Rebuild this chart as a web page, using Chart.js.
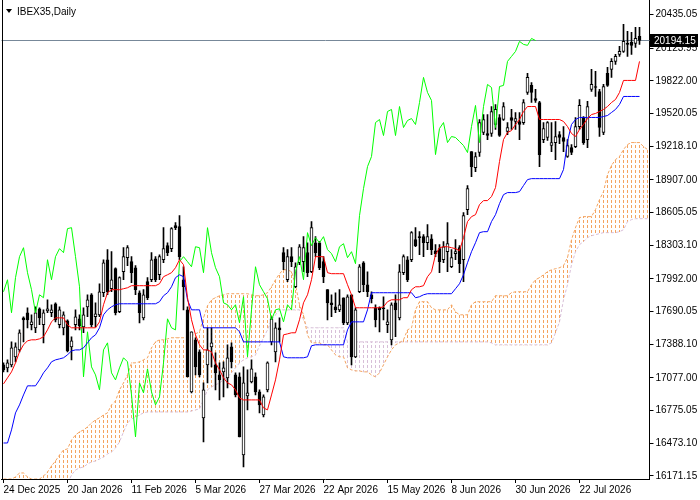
<!DOCTYPE html>
<html>
<head>
<meta charset="utf-8">
<script src="https://cdn.jsdelivr.net/npm/chart.js@4.4.1/dist/chart.umd.min.js"></script>
<style>
  html, body { margin: 0; padding: 0; background: #fff; }
</style>
</head>
<body>
<canvas id="c" width="700" height="500"></canvas>
<script>
// daily candles, one entry per bar
var opens = [17198,17170,17198,17272,17336,17632,17679,17568,17540,17716,
  17568,17697,17679,17762,17568,17540,17605,17364,17568,17623,
  17549,17734,17845,17642,17660,17864,18169,17901,18086,17688,
  18058,18188,18151,18095,17864,17632,17966,17984,18178,18030,
  18169,18299,18271,18484,18474,17984,17706,16948,17429,17318,
  16708,17198,17364,17198,17105,17133,17078,17364,17105,17087,
  16365,16911,17041,17087,16948,16735,16967,17410,17318,17540,
  18234,17984,18197,17919,18141,18151,18234,18058,18326,18326,
  18151,17892,17771,17734,17706,17818,17586,17845,17272,17873,
  18141,17938,17845,17725,17725,17725,17568,17429,17771,17632,
  18049,18169,18169,18354,18382,18382,18326,18363,18252,18271,
  18169,18243,18104,18225,18280,18169,18632,19168,19020,19159,
  19344,19335,19335,19418,19483,19464,19353,19483,19446,19446,
  19436,19714,19779,19658,19621,19279,19298,19224,19251,19325,
  19298,19122,19205,19214,19399,19483,19279,19742,19769,19723,
  19344,19890,19927,20001,20065,20093,20167,20176,20167,20232];

var highs = [17216,17244,17410,17401,17521,17642,17725,17660,17734,17725,
  17706,17799,17753,17771,17734,17688,17614,17457,17706,17660,
  17725,17845,17855,17771,17947,18169,18262,18243,18095,18012,
  18280,18299,18197,18114,17882,17892,18003,18234,18197,18215,
  18465,18326,18465,18511,18576,18104,17734,17503,17448,17336,
  17031,17540,17540,17309,17216,17226,17383,17401,17124,17124,
  17179,17152,17244,17124,16967,16920,17226,17642,17586,17632,
  18280,18262,18280,18141,18308,18382,18326,18521,18382,18336,
  18197,17892,17845,17864,17892,17818,17845,17845,17725,18123,
  18151,18058,17873,17753,17734,17827,17706,17771,17845,18123,
  18215,18197,18428,18465,18428,18400,18493,18400,18308,18308,
  18336,18511,18262,18354,18299,18604,18854,19168,19159,19464,
  19510,19510,19584,19603,19510,19621,19436,19557,19529,19529,
  19649,19890,19806,19742,19631,19436,19446,19436,19446,19353,
  19399,19279,19233,19483,19649,19492,19631,19927,19908,19742,
  19788,19945,20028,20065,20139,20343,20278,20269,20315,20315];

var lows = [17133,17133,17179,17226,17318,17410,17540,17521,17494,17568,
  17401,17679,17642,17595,17540,17475,17318,17244,17521,17521,
  17494,17642,17549,17549,17642,17827,17845,17873,17660,17679,
  17984,18114,17956,17845,17586,17614,17799,17966,17966,17984,
  18141,18206,18243,18447,18169,17706,17087,16939,17105,17087,
  16486,17031,17179,16967,16874,16902,16985,17170,16902,16532,
  16254,16782,17031,16920,16754,16717,16948,17383,17226,17410,
  18076,17966,18104,17910,18123,18058,18012,18049,18197,18076,
  17956,17614,17642,17679,17688,17568,17568,17198,17263,17864,
  17873,17827,17771,17549,17503,17614,17494,17383,17457,17614,
  18030,17966,18151,18289,18215,18197,18262,18215,18197,18049,
  18141,18058,18095,18169,18049,17966,18585,18937,18983,19122,
  19325,19279,19307,19372,19307,19455,19325,19372,19372,19279,
  19418,19695,19621,19621,19029,19251,19270,19168,19094,19242,
  19168,19113,19140,19205,19372,19233,19205,19723,19677,19307,
  19325,19769,19853,19973,20047,20084,20047,20065,20130,20158];

var closes = [17152,17216,17355,17364,17494,17614,17614,17595,17679,17632,
  17679,17716,17706,17614,17706,17660,17327,17420,17642,17559,
  17660,17799,17568,17670,17873,18141,17873,17984,17679,18003,
  18197,18280,18049,17892,17679,17845,17818,18169,17984,18197,
  18271,18234,18456,18465,18197,17919,17087,17503,17179,17105,
  16967,17336,17401,17124,17059,17170,17263,17226,16920,16532,
  17031,16939,17161,16948,16828,16902,17216,17623,17540,17521,
  18151,18197,18151,18104,18289,18280,18049,18465,18234,18095,
  18012,17771,17753,17706,17753,17586,17827,17272,17706,18104,
  17938,17873,17808,17614,17706,17716,17595,17753,17706,18058,
  18197,17984,18419,18299,18373,18326,18382,18262,18225,18151,
  18289,18317,18188,18243,18132,18576,18826,19029,19122,19436,
  19464,19316,19538,19557,19316,19584,19390,19455,19473,19418,
  19621,19853,19714,19640,19140,19381,19436,19251,19307,19298,
  19261,19224,19159,19399,19594,19251,19584,19788,19760,19390,
  19769,19779,20001,20047,20093,20186,20158,20149,20213,20194.15];

// Ichimoku lines
var tenkan = [17022,17078,17133,17216,17318,17383,17420,17429,17429,17438,
  17457,17521,17595,17632,17632,17632,17568,17540,17540,17540,
  17540,17540,17540,17540,17595,17753,17864,17892,17892,17892,
  17901,17910,17929,17929,17929,17929,17929,17929,17929,17947,
  18012,18030,18049,18095,18169,18123,17818,17614,17475,17383,
  17336,17336,17318,17216,17152,17078,17031,17013,16967,16892,
  16874,16874,16874,16874,16874,16800,16782,16920,17059,17244,
  17475,17484,17494,17494,17614,17771,17845,17984,18197,18197,
  18197,18049,18040,18040,18040,18040,17938,17845,17725,17725,
  17725,17725,17725,17725,17725,17734,17781,17799,17799,17799,
  17818,17818,17892,17919,17919,17929,18012,18058,18215,18280,
  18289,18289,18280,18271,18252,18373,18521,18567,18585,18678,
  18715,18715,18752,18835,19076,19279,19344,19362,19418,19464,
  19538,19584,19584,19584,19464,19464,19464,19464,19464,19464,
  19446,19399,19335,19307,19372,19418,19473,19510,19520,19538,
  19557,19584,19621,19649,19714,19825,19825,19825,19825,20001];

var kijun = [16476,16476,16597,16754,16828,16920,17004,17004,17004,17059,
  17124,17170,17226,17244,17253,17263,17290,17327,17336,17336,
  17355,17401,17448,17475,17540,17660,17706,17734,17753,17762,
  17762,17762,17762,17762,17762,17762,17762,17762,17762,17781,
  17836,17864,17919,18003,18030,18012,17799,17706,17706,17706,
  17540,17540,17540,17540,17540,17540,17540,17540,17540,17503,
  17410,17410,17410,17410,17410,17410,17410,17410,17410,17410,
  17272,17263,17263,17263,17263,17263,17272,17374,17383,17383,
  17383,17383,17383,17383,17383,17383,17521,17595,17595,17595,
  17595,17706,17864,17864,17864,17864,17864,17864,17864,17864,
  17864,17864,17864,17818,17827,17845,17855,17855,17855,17855,
  17855,17855,17855,17901,17947,18030,18141,18243,18326,18419,
  18428,18428,18521,18585,18687,18770,18789,18789,18789,18798,
  18854,18909,18918,18918,18918,18918,18918,18918,18918,18918,
  19002,19261,19418,19464,19483,19483,19483,19483,19483,19483,
  19492,19501,19529,19557,19603,19677,19677,19677,19677,19677];

var spanA = [16143,16143,16143,16162,16199,16199,16162,16143,16143,16143,
  16171,16208,16264,16310,16365,16412,16421,16504,16550,16578,
  16597,16624,16661,16689,16708,16735,16754,16828,16865,16967,
  17031,17105,17216,17216,17226,17244,17263,17355,17410,17429,
  17429,17438,17448,17448,17448,17448,17457,17466,17484,17503,
  17632,17743,17799,17818,17836,17845,17855,17855,17855,17855,
  17855,17855,17845,17836,17836,17845,17864,17919,17984,18040,
  18076,18076,18058,17938,17753,17660,17475,17401,17401,17401,
  17383,17383,17336,17290,17272,17272,17170,17152,17142,17142,
  17133,17133,17105,17087,17124,17198,17272,17336,17383,17401,
  17429,17521,17540,17706,17781,17781,17781,17725,17706,17706,
  17706,17706,17753,17688,17660,17660,17660,17753,17781,17781,
  17781,17781,17781,17836,17836,17836,17836,17864,17873,17873,
  17873,17873,17938,17984,18003,18030,18058,18076,18086,18095,
  18114,18188,18354,18465,18558,18567,18567,18567,18632,18724,
  18798,18955,19039,19094,19122,19187,19233,19251,19251,19251,
  19214,19187];

var spanB = [16100,16100,16100,16100,16100,16100,16100,16100,16100,16100,
  16100,16100,16100,16100,16100,16100,16100,16180,16227,16245,
  16254,16282,16301,16310,16328,16347,16375,16393,16430,16486,
  16578,16661,16698,16717,16735,16754,16763,16763,16763,16763,
  16763,16763,16763,16763,16763,16763,16763,16772,16782,16791,
  16874,16967,16994,17013,17031,17059,17087,17124,17170,17216,
  17244,17263,17272,17290,17374,17448,17521,17614,17660,17706,
  17706,17706,17706,17706,17706,17614,17540,17540,17540,17540,
  17540,17540,17540,17540,17540,17540,17410,17410,17410,17410,
  17410,17410,17410,17410,17410,17410,17410,17410,17410,17410,
  17410,17410,17410,17410,17410,17410,17410,17410,17410,17410,
  17410,17410,17410,17410,17410,17410,17410,17410,17410,17410,
  17410,17410,17401,17383,17383,17383,17383,17383,17383,17383,
  17383,17383,17383,17383,17383,17383,17383,17401,17494,17595,
  17799,17938,18122,18243,18308,18336,18373,18391,18400,18410,
  18419,18419,18419,18419,18428,18446,18521,18539,18548,18548,
  18548,18548];

var tickBars = [0, 16, 32, 48, 64, 80, 96, 112, 128, 144];
var tickLabels = ['24 Dec 2025', '20 Jan 2026', '11 Feb 2026', '5 Mar 2026', '27 Mar 2026',
  '22 Apr 2026', '15 May 2026', '8 Jun 2026', '30 Jun 2026', '22 Jul 2026'];
var priceTicks = [20435.05, 20123.95, 19822.00, 19520.05, 19218.10, 18907.00, 18605.05,
  18303.10, 17992.00, 17690.05, 17388.10, 17077.00, 16775.05, 16473.10, 16171.15];
var title = 'IBEX35,Daily';

var FONT = '"Liberation Sans", Arial, sans-serif';
var canvas = document.getElementById('c');
var ctx = canvas.getContext('2d');

// one dotted column every 4px, same spacing as the bars
function hatch(color) {
  var c = document.createElement('canvas');
  c.width = 4; c.height = 5;
  var g = c.getContext('2d');
  g.fillStyle = color;
  g.fillRect(3, 0, 1, 3);
  return ctx.createPattern(c, 'repeat');
}
var sandy = hatch('#f4a460');
var thistle = hatch('#d8bfd8');

var bars = spanA.map(function (v, i) { return i; });
var lastPrice = closes[closes.length - 1];

// lagging span is the close moved 26 bars back
var chikou = bars.map(function (i) {
  return i + 26 < closes.length ? closes[i + 26] : null;
});

var overlay = {
  id: 'overlay',
  beforeDatasetsDraw: function (chart) {
    var c = chart.ctx, a = chart.chartArea;
    var y = Math.round(chart.scales.y.getPixelForValue(lastPrice)) + 0.5;
    c.save();
    c.strokeStyle = '#778899';
    c.lineWidth = 1;
    c.beginPath();
    c.moveTo(a.left, y);
    c.lineTo(a.right, y);
    c.stroke();
    c.restore();
  },
  afterDraw: function (chart) {
    var c = chart.ctx, a = chart.chartArea;
    var y = Math.round(chart.scales.y.getPixelForValue(lastPrice));
    c.save();
    // left frame
    c.strokeStyle = '#000';
    c.lineWidth = 1;
    c.beginPath();
    c.moveTo(2.5, 0);
    c.lineTo(2.5, a.bottom);
    c.stroke();
    // price box
    c.fillStyle = '#000';
    c.fillRect(650, y - 6, 48, 13);
    c.fillStyle = '#fff';
    c.font = '10px ' + FONT;
    c.textBaseline = 'middle';
    c.fillText(lastPrice.toFixed(2), 654, y + 1);
    // title
    c.fillStyle = '#000';
    c.beginPath();
    c.moveTo(6, 9); c.lineTo(12, 9); c.lineTo(9, 13);
    c.closePath();
    c.fill();
    c.textBaseline = 'middle';
    c.fillText(title, 17, 12);
    c.restore();
  }
};

new Chart(ctx, {
  type: 'bar',
  data: {
    labels: bars,
    datasets: [
      {
        type: 'line', label: 'Tenkan', data: tenkan,
        borderColor: '#ff0000', borderWidth: 1, pointRadius: 0, order: 0
      },
      {
        type: 'line', label: 'Kijun', data: kijun,
        borderColor: '#0000ff', borderWidth: 1, pointRadius: 0, order: 1
      },
      {
        type: 'line', label: 'Chikou', data: chikou,
        borderColor: '#00ff00', borderWidth: 1, pointRadius: 0, order: 2
      },
      {
        label: 'Bodies',
        data: opens.map(function (o, i) { return [o, closes[i]]; }),
        backgroundColor: function (c) {
          var i = c.dataIndex;
          return closes[i] >= opens[i] ? '#ffffff' : '#000000';
        },
        borderColor: '#000', borderWidth: 1, borderSkipped: false,
        barThickness: 3, minBarLength: 1, grouped: false, order: 3
      },
      {
        label: 'Wicks',
        data: lows.map(function (l, i) { return [l, highs[i]]; }),
        backgroundColor: '#000', barThickness: 1, grouped: false, order: 4
      },
      {
        type: 'line', label: 'Span A', data: spanA,
        borderColor: '#f4a460', borderWidth: 1, borderDash: [3, 2], pointRadius: 0, order: 5
      },
      {
        type: 'line', label: 'Span B', data: spanB,
        borderColor: '#d8bfd8', borderWidth: 1, borderDash: [3, 2], pointRadius: 0, order: 5
      },
      {
        label: 'Kumo',
        data: spanA.map(function (a, i) { return [a, spanB[i]]; }),
        backgroundColor: spanA.map(function (a, i) { return a >= spanB[i] ? sandy : thistle; }),
        barThickness: 4, grouped: false, order: 6
      }
    ]
  },
  options: {
    responsive: false,
    animation: false,
    devicePixelRatio: 1,
    events: [],
    layout: { padding: { left: 1.5, top: 0, right: 0, bottom: 0 } },
    plugins: { legend: { display: false }, tooltip: { enabled: false } },
    scales: {
      x: {
        offset: true,
        grid: { drawOnChartArea: false, offset: false, tickLength: 4, color: '#000' },
        border: { color: '#000' },
        ticks: {
          autoSkip: false, maxRotation: 0, minRotation: 0, align: 'start', padding: 1,
          color: '#000', font: { family: FONT, size: 10 },
          callback: function (v, i) { return tickLabels[i]; }
        },
        afterBuildTicks: function (s) {
          s.ticks = tickBars.map(function (v) { return { value: v }; });
        },
        afterFit: function (s) {
          s.height = 21;
          s.paddingLeft = 0; s.paddingRight = 0;
        }
      },
      y: {
        position: 'right',
        min: 16143.4,
        max: 20568,
        grid: { drawOnChartArea: false, tickLength: 4, color: '#000' },
        border: { color: '#000' },
        ticks: {
          padding: 2, color: '#000', font: { family: FONT, size: 10 },
          callback: function (v) { return Number(v).toFixed(2); }
        },
        afterBuildTicks: function (s) {
          s.ticks = priceTicks.map(function (v) { return { value: v }; });
        },
        afterFit: function (s) {
          s.width = 50.5;
          s.paddingTop = 0; s.paddingBottom = 0;
        }
      }
    }
  },
  plugins: [overlay]
});
</script>
</body>
</html>
